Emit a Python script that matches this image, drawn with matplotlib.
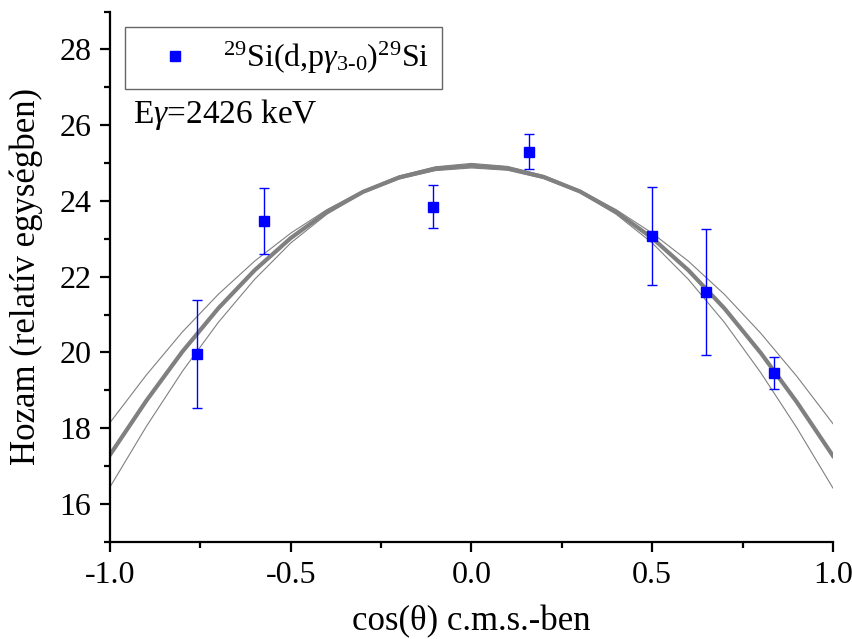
import matplotlib
matplotlib.use("Agg")
import matplotlib.pyplot as plt
from matplotlib.ticker import MultipleLocator

plt.rcParams['font.family'] = ['Liberation Serif', 'DejaVu Serif']
plt.rcParams['mathtext.fontset'] = 'custom'
plt.rcParams['mathtext.rm'] = 'Liberation Serif'
plt.rcParams['mathtext.it'] = 'Liberation Serif:italic'

# -----------------------------
# measured points (read off the picture)
# -----------------------------
cos_theta = [-0.759, -0.573, -0.107, 0.159, 0.500, 0.650, 0.836]
yield_rel = [19.96, 23.48, 23.85, 25.30, 23.08, 21.60, 19.46]
yield_err = [1.42, 0.87, 0.57, 0.47, 1.30, 1.67, 0.42]

# -----------------------------
# fit curve and its confidence band, sampled every 0.1
# -----------------------------
fit_x = [-1.0, -0.9, -0.8, -0.7, -0.6, -0.5, -0.4, -0.3, -0.2, -0.1, 0.0,
         0.1, 0.2, 0.3, 0.4, 0.5, 0.6, 0.7, 0.8, 0.9, 1.0]
fit_y = [17.30, 18.72, 20.02, 21.17, 22.17, 23.02, 23.71, 24.24, 24.62, 24.85, 24.93,
         24.86, 24.63, 24.25, 23.71, 23.02, 22.17, 21.16, 19.99, 18.69, 17.27]
band_hi = [18.15, 19.40, 20.54, 21.54, 22.41, 23.15, 23.77, 24.27, 24.66, 24.90, 24.99,
           24.91, 24.67, 24.28, 23.77, 23.15, 22.41, 21.53, 20.51, 19.37, 18.12]
band_lo = [16.45, 18.04, 19.50, 20.80, 21.93, 22.89, 23.65, 24.21, 24.58, 24.80, 24.87,
           24.81, 24.59, 24.22, 23.65, 22.89, 21.93, 20.79, 19.47, 18.01, 16.42]

# -----------------------------
# plot
# -----------------------------
fig = plt.figure(figsize=(8.53, 6.39), dpi=100)
ax = fig.add_axes([0.129, 0.152, 0.8475, 0.830])

ax.plot(fit_x, band_hi, color='#808080', lw=0.8, solid_joinstyle='round')
ax.plot(fit_x, band_lo, color='#808080', lw=0.8, solid_joinstyle='round')
ax.plot(fit_x, fit_y, color='#808080', lw=3.0, solid_joinstyle='round')

ax.errorbar(cos_theta, yield_rel, yerr=yield_err, fmt='none', ecolor='#0000FF',
            elinewidth=1.0, capsize=3.6, capthick=1.0)
ax.plot(cos_theta, yield_rel, 's', color='#0000FF', ms=7.5,
        label=r'$^{29}$Si(d,p$\gamma_{3\text{-}0}$)$^{29}$Si')

ax.set_xlim(-1.0, 1.0)
ax.set_ylim(15, 29)
ax.set_yticks([16, 18, 20, 22, 24, 26, 28])
ax.xaxis.set_ticks([-1.0, -0.5, 0.0, 0.5, 1.0])
ax.set_xticklabels(['-1.0', '-0.5', '0.0', '0.5', '1.0'])
ax.xaxis.set_minor_locator(MultipleLocator(0.25))
ax.yaxis.set_minor_locator(MultipleLocator(1))

for side in ['top', 'right']:
    ax.spines[side].set_visible(False)
for side in ['left', 'bottom']:
    ax.spines[side].set_linewidth(1.6)

ax.tick_params(which='major', direction='out', length=7.5, width=1.6,
               labelsize=23, pad=6)
ax.tick_params(which='minor', direction='out', length=4, width=1.6)

ax.set_xlabel('cos(θ) c.m.s.-ben', fontsize=25, labelpad=11)
ax.set_ylabel('Hozam (relatív egységben)', fontsize=25, labelpad=12)

leg = ax.legend(loc='upper left', bbox_to_anchor=(0.021, 0.971), borderaxespad=0,
                fontsize=23, frameon=True, fancybox=False, handlelength=2.3,
                handletextpad=0.35, borderpad=0.4)
leg.get_frame().set_edgecolor('#404040')
leg.get_frame().set_linewidth(1.0)

ax.text(0.032, 0.805, r'E$\gamma$=2426 keV', transform=ax.transAxes, fontsize=24,
        va='center', ha='left')

fig.savefig('out.png', dpi=100)
